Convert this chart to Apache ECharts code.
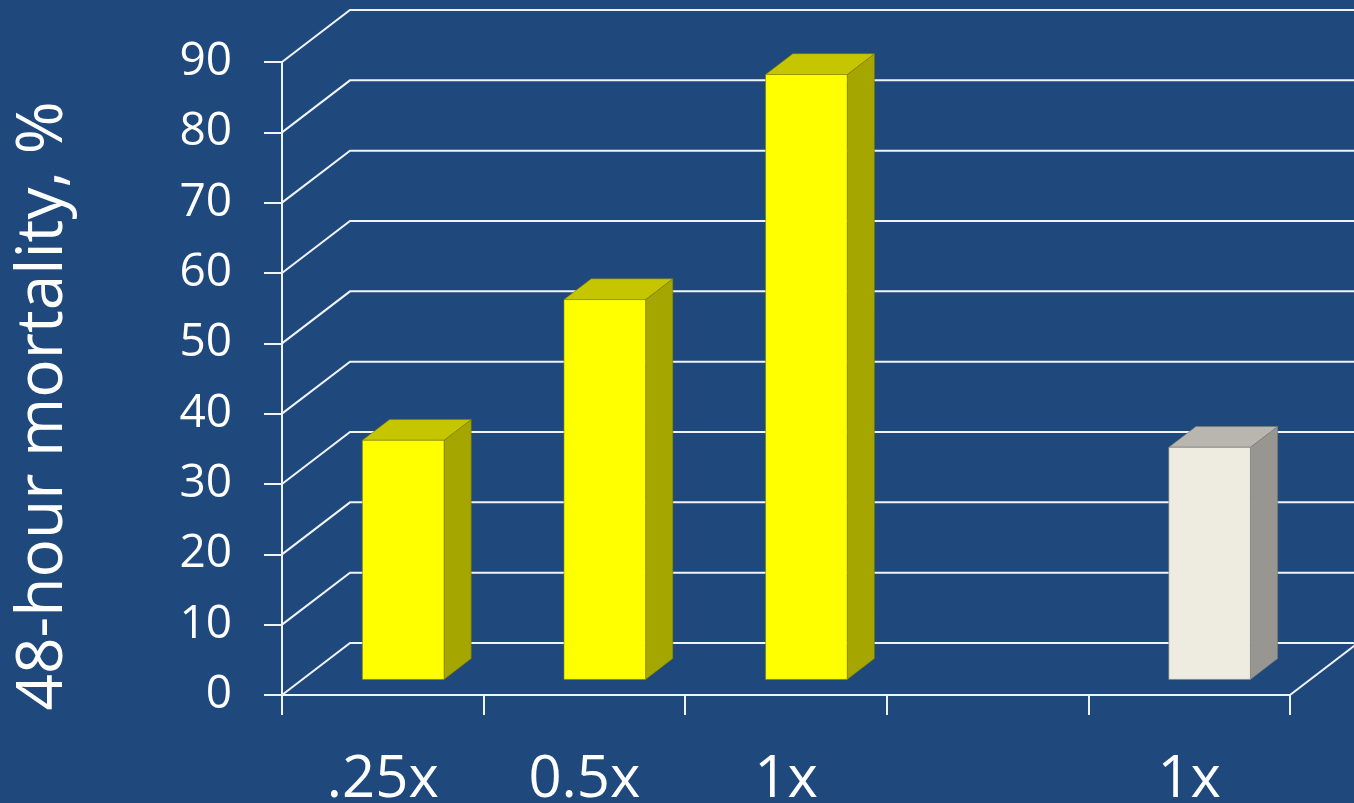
<!DOCTYPE html>
<html>
<head>
<meta charset="utf-8">
<title>48-hour mortality</title>
<script src="https://cdn.jsdelivr.net/npm/echarts@6/dist/echarts.min.js"></script>
<style>
  html, body { margin: 0; padding: 0; background: #1F497D; }
  #chart { width: 1354px; height: 803px; }
</style>
</head>
<body>
<div id="chart"></div>
<script>
// Dose groups along the floor (the fourth slot is an empty gap)
const categories = ['.25x', '0.5x', '1x', '', '1x'];
// 48-hour mortality per group, %
const mortality = [34, 54, 86, null, 33];
// Which bars belong to the comparison group (drawn in a neutral tone)
const isComparison = [false, false, false, false, true];
// Value-axis ticks
const yTicks = [0, 10, 20, 30, 40, 50, 60, 70, 80, 90];

const FONT = '"Open Sans", "Noto Sans", sans-serif';
const BG = '#1F497D';
const LINE = '#F0F3F7';

// Oblique depth of the box: full wall depth, bar placement inside it
const DEPTH = { dx: 68, dy: -52, barFront: 0.3, barDepth: 0.4, barWidth: 0.405 };

const palettes = {
  main: { front: '#FFFF00', top: '#C6C600', side: '#A6A600', edge: 'rgba(120,120,0,0.55)' },
  comparison: { front: '#EEECE1', top: '#B8B6AE', side: '#979690', edge: 'rgba(120,120,112,0.6)' }
};

const barData = [];
mortality.forEach(function (v, i) {
  if (v != null) barData.push([i, v, isComparison[i] ? 1 : 0]);
});

const chart = echarts.init(document.getElementById('chart'), null, { renderer: 'canvas' });

function renderWalls(params, api) {
  const v = api.value(0);
  const cs = params.coordSys;
  const y = api.coord([0, v])[1];
  const left = cs.x, right = cs.x + cs.width;
  const dx = DEPTH.dx, dy = DEPTH.dy;
  const style = { stroke: LINE, lineWidth: 2, fill: null };
  const children = [{
    type: 'polyline',
    shape: { points: [[left, y], [left + dx, y + dy], [right + dx + 20, y + dy]] },
    style: style
  }];
  if (v === 0) {
    children.push({
      type: 'line',
      shape: { x1: right, y1: y, x2: right + dx, y2: y + dy },
      style: style
    });
  }
  return { type: 'group', children: children };
}

function renderBar(params, api) {
  const i = api.value(0);
  const v = api.value(1);
  const pal = api.value(2) === 1 ? palettes.comparison : palettes.main;
  const band = api.size([1, 0])[0];
  const base = api.coord([i, 0]);
  const topPt = api.coord([i, v]);
  const w = band * DEPTH.barWidth;
  const ox = DEPTH.dx * DEPTH.barFront, oy = DEPTH.dy * DEPTH.barFront;
  const bx = DEPTH.dx * DEPTH.barDepth, by = DEPTH.dy * DEPTH.barDepth;
  const x0 = base[0] + ox - w / 2, x1 = x0 + w;
  const yT = topPt[1] + oy, yB = base[1] + oy;
  return {
    type: 'group',
    children: [
      { type: 'polygon',
        shape: { points: [[x1, yT], [x1 + bx, yT + by], [x1 + bx, yB + by], [x1, yB]] },
        style: { fill: pal.side, stroke: pal.edge, lineWidth: 1 } },
      { type: 'polygon',
        shape: { points: [[x0, yT], [x0 + bx, yT + by], [x1 + bx, yT + by], [x1, yT]] },
        style: { fill: pal.top, stroke: pal.edge, lineWidth: 1 } },
      { type: 'rect',
        shape: { x: x0, y: yT, width: w, height: yB - yT },
        style: { fill: pal.front, stroke: pal.edge, lineWidth: 1 } }
    ]
  };
}

chart.setOption({
  backgroundColor: BG,
  animation: false,
  grid: { left: 282, right: 64, top: 62, bottom: 108, containLabel: false, outerBoundsMode: 'none' },
  xAxis: {
    type: 'category',
    data: categories,
    boundaryGap: true,
    axisLine: { show: true, lineStyle: { color: LINE, width: 2 } },
    axisTick: { show: true, length: 20, alignWithLabel: false, lineStyle: { color: LINE, width: 2 } },
    axisLabel: { color: '#FFFFFF', fontSize: 58, fontFamily: FONT, margin: 56, interval: 0 },
    splitLine: { show: false }
  },
  yAxis: {
    type: 'value',
    min: 0, max: 90, interval: 10,
    axisLine: { show: true, lineStyle: { color: LINE, width: 2 } },
    axisTick: { show: true, length: 18, lineStyle: { color: LINE, width: 2 } },
    axisLabel: { color: '#FFFFFF', fontSize: 46, fontFamily: FONT, margin: 50, padding: [12, 0, 0, 0] },
    splitLine: { show: false }
  },
  graphic: [{
    type: 'text',
    x: 44, y: 406,
    rotation: Math.PI / 2,
    style: {
      text: '48-hour mortality, %',
      fill: '#FFFFFF',
      font: '64px ' + FONT,
      align: 'center',
      verticalAlign: 'middle'
    }
  }],
  series: [
    {
      type: 'custom',
      name: 'walls',
      z: 1,
      clip: false,
      silent: true,
      renderItem: renderWalls,
      data: yTicks.map(function (t) { return [t]; }),
      encode: { y: 0 }
    },
    {
      type: 'custom',
      name: 'mortality',
      z: 3,
      clip: false,
      renderItem: renderBar,
      data: barData,
      encode: { x: 0, y: 1 }
    }
  ]
});
</script>
</body>
</html>
